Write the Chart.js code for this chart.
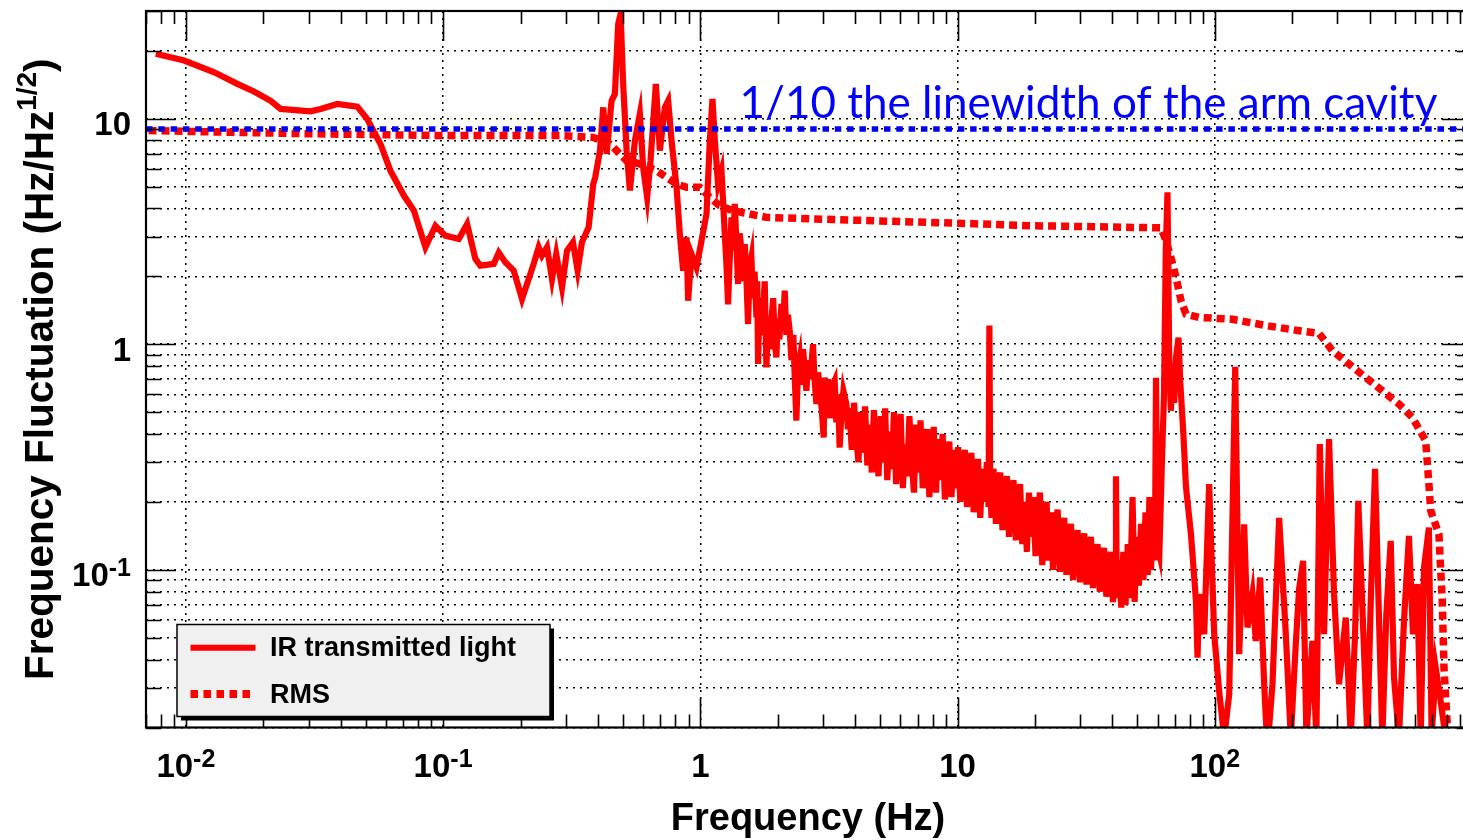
<!DOCTYPE html>
<html>
<head>
<meta charset="utf-8">
<title>Frequency fluctuation spectrum</title>
<script src="https://cdn.jsdelivr.net/npm/chart.js@4.4.1/dist/chart.umd.min.js"></script>
<style>
  html, body { margin: 0; padding: 0; background: #fff; overflow: hidden; }
  #wrap { width: 1480px; height: 840px; }
</style>
</head>
<body>
<div id="wrap"><canvas id="c" width="1480" height="840"></canvas></div>
<script>
// --- data -----------------------------------------------------------------
// IR transmitted light: amplitude spectral density (Hz/Hz^1/2) vs frequency (Hz)
var IR_FREQ = [
  0.00764, 0.00985, 0.0129, 0.01585, 0.0184, 0.02136, 0.02335, 0.03054, 0.0334, 0.0388,
  0.0464, 0.0507, 0.0571, 0.0624, 0.0704, 0.077, 0.0854, 0.0934, 0.102, 0.1151,
  0.124, 0.1335, 0.1396, 0.1574, 0.1646, 0.1746, 0.1882, 0.2027, 0.225, 0.2353,
  0.2424, 0.2535, 0.2651, 0.2754, 0.29, 0.3032, 0.3198, 0.3335, 0.3466, 0.368,
  0.3835, 0.3904, 0.4073, 0.4194, 0.4323, 0.4519, 0.4656, 0.4795, 0.49, 0.5013,
  0.517, 0.5325, 0.5568, 0.5821, 0.5995, 0.6213, 0.6405, 0.6717, 0.6962, 0.7281,
  0.7499, 0.773, 0.8084, 0.8325, 0.8574, 0.8839, 0.8966, 0.9243, 0.9665, 1.011,
  1.057, 1.089, 1.115, 1.139, 1.172, 1.209,
  1.245, 1.265, 1.282, 1.302, 1.322, 1.341, 1.361, 1.38, 1.402, 1.423,
  1.445, 1.467, 1.489, 1.51, 1.533, 1.556, 1.58, 1.6, 1.625, 1.653,
  1.665, 1.677, 1.7, 1.725, 1.753, 1.78, 1.807, 1.835, 1.86, 1.89,
  1.92, 1.95, 1.976, 2.0, 2.03, 2.067, 2.1, 2.129, 2.16, 2.19,
  2.226, 2.26, 2.3, 2.33, 2.363, 2.4, 2.434, 2.47, 2.51, 2.55,
  2.585, 2.63, 2.68, 2.742, 2.78, 2.827, 2.87, 2.92, 2.97, 3.017,
  3.044, 3.09, 3.14, 3.2, 3.26, 3.329, 3.38, 3.43, 3.481, 3.54,
  3.6, 3.696, 3.75,
  3.8, 3.88, 3.96, 4.04, 4.12, 4.2, 4.28, 4.37, 4.46, 4.55,
  4.64, 4.73, 4.83, 4.93, 5.03, 5.13, 5.23, 5.33, 5.44, 5.55,
  5.66, 5.77, 5.89, 6.01, 6.13, 6.25, 6.38, 6.5, 6.63, 6.77,
  6.9, 7.04, 7.18, 7.32, 7.47, 7.62, 7.77, 7.93, 8.08, 8.25,
  8.41, 8.58, 8.75, 8.93, 9.1, 9.29, 9.47, 9.66, 9.86, 10.05,
  10.25, 10.46, 10.67, 10.88, 11.1, 11.32, 11.55, 11.78, 12.01, 12.25,
  12.5, 12.75, 13.0, 13.2, 13.3, 13.4, 13.55, 13.8, 14.1, 14.35,
  14.65, 14.95, 15.25, 15.55, 15.85, 16.2, 16.5, 16.85, 17.15, 17.5,
  17.85, 18.2, 18.6, 18.95, 19.35, 19.7, 20.1, 20.5, 20.9, 21.35,
  21.75, 22.2, 22.6, 23.1, 23.5, 24.0, 24.5, 25.0, 25.5, 26.0,
  26.5, 27.0, 27.6, 28.1, 28.7, 29.3, 29.9, 30.5, 31.1, 31.7,
  32.3, 33.0, 33.6, 34.3, 35.0, 35.7, 36.4, 37.1, 37.9, 38.6,
  39.4, 40.2, 41.0, 41.3, 41.6, 42.4, 43.3, 44.1, 45.0, 45.9,
  46.8, 47.9, 48.8, 49.7, 50.7, 51.7, 52.8, 53.8, 54.9, 55.7,
  56.5, 57.6, 58.5, 59.1, 59.8, 60.9,
  62.3, 63.5, 64.5, 65.5, 66.5, 67.5, 68.5, 69.5, 70.7, 72.3,
  73.5, 75.5, 77.3, 80.8, 84.5, 85.7, 87.0, 91.0, 95.1, 99.5,
  104, 108.8, 113.8, 120.1, 124.4, 130.1, 134.0, 140.1, 144.4, 150.1,
  155.6, 160.2, 167.6, 177.9, 188.9, 197.5, 206.5, 212.7, 220.5, 227.1,
  239.6, 248.3, 256, 266, 278.1, 290.9, 304.1, 323, 337.8, 351,
  361.4, 374.8, 391.9, 404, 419.8, 434.9, 448.1, 464.5, 483.1, 497.5,
  520, 544, 568.7, 589.5, 612.8, 631.9, 650.8, 679.9, 696.8, 722.3,
  755.3, 789.8
];
var IR_AMP = [
  19.4, 18.1, 16.05, 14.26, 13.2, 12.0, 11.04, 10.78, 11.04, 11.62,
  11.3, 9.97, 7.72, 5.88, 4.56, 3.91, 2.69, 3.35, 3.03, 2.93,
  3.41, 2.39, 2.23, 2.27, 2.55, 2.31, 2.12, 1.587, 2.27, 2.69,
  2.47, 2.69, 1.946, 2.51, 1.786, 2.6, 2.83, 2.12, 2.83, 3.3,
  5.13, 5.49, 7.21, 11.22, 6.98, 12.0, 12.87, 26.3, 29.1, 14.26,
  7.21, 4.8, 7.99, 10.5, 6.08, 4.48, 6.51, 14.26, 7.21, 11.22,
  12.0, 7.99, 4.96, 3.08, 2.12, 2.98, 1.56, 2.51, 2.19, 2.88,
  3.78, 7.99, 12.23, 7.99, 5.13, 5.88,
  3.08, 2.2, 1.5, 2.4, 3.65, 2.6, 4.19, 2.9, 1.849, 3.1,
  2.6, 1.9, 2.78, 2.0, 1.229, 2.2, 2.43, 1.6, 2.1, 1.315,
  1.9, 0.817, 1.6, 1.1, 1.361, 1.9, 0.789, 1.3, 0.95, 1.271,
  1.6, 1.0, 0.874, 1.3, 1.05, 1.508, 1.25, 1.727, 1.1, 1.35,
  1.148, 0.85, 1.1, 0.7, 0.458, 0.8, 0.874, 0.66, 0.95, 0.75,
  0.622, 0.85, 0.7, 1.0, 0.7, 0.543, 0.75, 0.62, 0.5, 0.386,
  0.712, 0.56, 0.7, 0.47, 0.65, 0.689, 0.45, 0.6, 0.348, 0.5,
  0.62, 0.543, 0.42,
  0.52, 0.34, 0.55, 0.38, 0.30, 0.50, 0.33, 0.53, 0.29, 0.44,
  0.27, 0.51, 0.35, 0.26, 0.48, 0.30, 0.52, 0.25, 0.41, 0.28,
  0.50, 0.24, 0.38, 0.49, 0.23, 0.36, 0.26, 0.48, 0.30, 0.22,
  0.44, 0.27, 0.46, 0.23, 0.35, 0.42, 0.21, 0.30, 0.43, 0.22,
  0.38, 0.25, 0.40, 0.205, 0.31, 0.37, 0.21, 0.34, 0.23, 0.35,
  0.20, 0.29, 0.34, 0.19, 0.27, 0.33, 0.18, 0.25, 0.31, 0.17,
  0.28, 0.20, 0.30, 0.19, 1.21, 0.24, 0.17, 0.28, 0.16, 0.23,
  0.27, 0.15, 0.22, 0.26, 0.14, 0.21, 0.25, 0.135, 0.19, 0.24,
  0.13, 0.20, 0.12, 0.22, 0.14, 0.21, 0.115, 0.17, 0.22, 0.105,
  0.16, 0.20, 0.11, 0.18, 0.10, 0.15, 0.185, 0.098, 0.14, 0.17,
  0.095, 0.13, 0.16, 0.09, 0.125, 0.15, 0.088, 0.12, 0.145, 0.086,
  0.115, 0.14, 0.083, 0.11, 0.13, 0.08, 0.105, 0.125, 0.076, 0.10,
  0.12, 0.072, 0.10, 0.26, 0.075, 0.11, 0.068, 0.12, 0.07, 0.13,
  0.075, 0.21, 0.072, 0.14, 0.085, 0.16, 0.09, 0.18, 0.095, 0.21,
  0.10, 0.19, 0.11, 0.71, 0.13, 0.118,
  0.3, 0.6, 2.6, 4.71, 0.9, 0.507, 0.75, 0.55, 0.874, 1.07,
  0.666, 0.4, 0.232, 0.144, 0.0729, 0.0408, 0.078, 0.0518, 0.24, 0.0518,
  0.029, 0.018, 0.0281, 0.795, 0.0423, 0.159, 0.0555, 0.078, 0.0484, 0.0924,
  0.0311, 0.016, 0.0311, 0.17, 0.0518, 0.018, 0.0468, 0.0821, 0.1096, 0.018,
  0.0484, 0.018, 0.361, 0.0518, 0.38, 0.078, 0.0311, 0.0614, 0.018, 0.0518,
  0.202, 0.068, 0.018, 0.0729, 0.28, 0.0614, 0.018, 0.0636, 0.1344, 0.0333,
  0.018, 0.0594, 0.1415, 0.0518, 0.0864, 0.018, 0.1023, 0.154, 0.018, 0.0369,
  0.0262, 0.018
];

// integrated RMS of the same spectrum
var RMS_FREQ = [
  0.00716, 0.0279, 0.1065, 0.2848, 0.3825, 0.4453, 0.4868, 0.517, 0.5821, 0.676,
  0.739, 0.8084, 0.8839, 0.9955, 1.089, 1.19, 1.341, 1.807, 3.279, 5.95,
  10.8, 19.6, 33.5, 61.8, 64.6, 67.5, 70.7, 73.9, 77.3, 87.0,
  117.2, 158, 212.7, 254.4, 286.6, 332.5, 386.4, 448.1, 520, 586,
  660.6, 679.9, 690.7, 743.6, 766.2, 778, 801
];
var RMS_AMP = [
  8.85, 8.58, 8.41, 8.41, 8.26, 7.72, 6.98, 6.51, 6.3, 5.88,
  5.49, 5.13, 4.96, 4.96, 4.48, 4.11, 3.91, 3.65, 3.57, 3.5,
  3.43, 3.35, 3.32, 3.28, 2.88, 2.43, 1.98, 1.56, 1.36, 1.315,
  1.29, 1.21, 1.148, 1.117, 0.936, 0.817, 0.712, 0.622, 0.543, 0.474,
  0.373, 0.24, 0.183, 0.144, 0.0729, 0.0369, 0.0207
];

// reference level: 1/10 of the arm-cavity linewidth
var LIMIT_FREQ = [0.007, 1000];
var LIMIT_AMP = [9.0, 9.0];
var LIMIT_TEXT = "1/10 the linewidth of the arm cavity";
var LIMIT_TEXT_AT = [1.42, 10.1];   // left end / baseline of the annotation (data units)

var SERIES_LABELS = ["IR transmitted light", "RMS"];

// axes
var X_RANGE = [0.007, 1000];
var Y_RANGE = [0.02, 30];
var X_TICK_VALUES = [0.01, 0.1, 1, 10, 100];
var X_TICK_BASE = ["10", "10", "1", "10", "10"];
var X_TICK_EXP = ["-2", "-1", "", "", "2"];
var Y_TICK_VALUES = [0.1, 1, 10];
var Y_TICK_BASE = ["10", "1", "10"];
var Y_TICK_EXP = ["-1", "", ""];
var X_TITLE = "Frequency (Hz)";
var Y_TITLE = ["Frequency Fluctuation (Hz/Hz", "1/2", ")"];

// --- helpers -----------------------------------------------------------------
var RED = "#ff0000", BLUE = "#0000f0";
var FONT = "'Liberation Sans', Arial, Helvetica, sans-serif";

function pts(xs, ys) {
  return xs.map(function (x, i) { return { x: x, y: ys[i] }; });
}
function isDecade(v) {
  var l = Math.log10(v);
  return Math.abs(l - Math.round(l)) < 1e-6;
}
// 1..9 x 10^n inside [lo, hi]
function logTicks(lo, hi) {
  var out = [];
  for (var e = -4; e <= 4; e++) {
    for (var m = 1; m <= 9; m++) {
      var v = +(m * Math.pow(10, e)).toPrecision(6);
      if (v >= lo * 0.9999 && v <= hi * 1.0001) out.push(v);
    }
  }
  return out;
}
var X_TICKS = logTicks(X_RANGE[0], X_RANGE[1]);
var Y_TICKS = logTicks(Y_RANGE[0], Y_RANGE[1]);

// "10" + superscript exponent, aligned on px
function drawPow(ctx, base, exp, px, baseline, align, size) {
  var sup = Math.round(size * 0.75);
  ctx.font = "bold " + size + "px " + FONT;
  var wb = ctx.measureText(base).width;
  ctx.font = "bold " + sup + "px " + FONT;
  var we = exp ? ctx.measureText(exp).width : 0;
  var left = align === "right" ? px - wb - we : px - (wb + we) / 2;
  ctx.textAlign = "left";
  ctx.textBaseline = "alphabetic";
  ctx.font = "bold " + size + "px " + FONT;
  ctx.fillText(base, left, baseline);
  if (exp) {
    ctx.font = "bold " + sup + "px " + FONT;
    ctx.fillText(exp, left + wb, baseline - 10);
  }
}

// ROOT-like frame, inward ticks, labels, titles and legend
var rootStyle = {
  id: "rootStyle",
  afterDatasetsDraw: function (chart) {
    var ctx = chart.ctx, a = chart.chartArea, x = chart.scales.x, y = chart.scales.y;
    ctx.save();
    ctx.strokeStyle = "#000";
    ctx.lineWidth = 1.6;
    ctx.beginPath();
    X_TICKS.forEach(function (v) {
      var px = Math.round(x.getPixelForValue(v)) + 0.5;
      var len = isDecade(v) ? 30 : 13;
      ctx.moveTo(px, a.bottom); ctx.lineTo(px, a.bottom - len);
      ctx.moveTo(px, a.top); ctx.lineTo(px, a.top + len);
    });
    Y_TICKS.forEach(function (v) {
      var py = Math.round(y.getPixelForValue(v)) + 0.5;
      var len = isDecade(v) ? 30 : 15;
      ctx.moveTo(a.left, py); ctx.lineTo(a.left + len, py);
      ctx.moveTo(a.right, py); ctx.lineTo(a.right - len, py);
    });
    ctx.stroke();
    ctx.lineWidth = 2.2;
    ctx.strokeRect(a.left, a.top, a.right - a.left, a.bottom - a.top);
    ctx.restore();
  },
  afterDraw: function (chart) {
    var ctx = chart.ctx, a = chart.chartArea, x = chart.scales.x, y = chart.scales.y;
    ctx.save();
    ctx.fillStyle = "#000";

    // tick labels
    X_TICK_VALUES.forEach(function (v, i) {
      drawPow(ctx, X_TICK_BASE[i], X_TICK_EXP[i], x.getPixelForValue(v), 777, "center", 33);
    });
    Y_TICK_VALUES.forEach(function (v, i) {
      drawPow(ctx, Y_TICK_BASE[i], Y_TICK_EXP[i], a.left - 15, y.getPixelForValue(v) + 16.5, "right", 33);
    });

    // x title
    ctx.font = "bold 38px " + FONT;
    ctx.textAlign = "center";
    ctx.textBaseline = "alphabetic";
    ctx.fillText(X_TITLE, (a.left + a.right) / 2 - 1, 830);

    // y title, rotated, with superscript 1/2
    ctx.save();
    ctx.translate(53, (a.top + a.bottom) / 2);
    ctx.rotate(-Math.PI / 2);
    var big = "bold 40.5px " + FONT, small = "bold 28px " + FONT;
    ctx.font = big;
    var w0 = ctx.measureText(Y_TITLE[0]).width, w2 = ctx.measureText(Y_TITLE[2]).width;
    ctx.font = small;
    var w1 = ctx.measureText(Y_TITLE[1]).width;
    var sx = -(w0 + w1 + w2) / 2;
    ctx.textAlign = "left";
    ctx.font = big;
    ctx.fillText(Y_TITLE[0], sx, 0);
    ctx.font = small;
    ctx.fillText(Y_TITLE[1], sx + w0, -17);
    ctx.font = big;
    ctx.fillText(Y_TITLE[2], sx + w0 + w1, 0);
    ctx.restore();

    // annotation of the reference level
    ctx.fillStyle = "#0000ff";
    ctx.font = "44px Lato, 'Open Sans', sans-serif";
    ctx.textAlign = "left";
    ctx.fillText(LIMIT_TEXT, x.getPixelForValue(LIMIT_TEXT_AT[0]), y.getPixelForValue(LIMIT_TEXT_AT[1]));

    // legend box with drop shadow
    var L = 177, T = 624.5, W = 373, H = 92;
    ctx.fillStyle = "#000";
    ctx.fillRect(L + 4, T + 4, W, H);
    ctx.fillStyle = "#f0f0f0";
    ctx.fillRect(L, T, W, H);
    ctx.strokeStyle = "#000";
    ctx.lineWidth = 1.5;
    ctx.strokeRect(L, T, W, H);

    ctx.strokeStyle = RED;
    ctx.lineWidth = 6;
    ctx.beginPath(); ctx.moveTo(190.5, 647.7); ctx.lineTo(255.5, 647.7); ctx.stroke();
    ctx.lineWidth = 8;
    ctx.setLineDash([7.5, 5.5]);
    ctx.beginPath(); ctx.moveTo(190.5, 694); ctx.lineTo(255.5, 694); ctx.stroke();
    ctx.setLineDash([]);

    ctx.fillStyle = "#000";
    ctx.font = "bold 27px " + FONT;
    ctx.fillText(SERIES_LABELS[0], 270, 655.5);
    ctx.fillText(SERIES_LABELS[1], 270, 703);
    ctx.restore();
  }
};

new Chart(document.getElementById("c").getContext("2d"), {
  type: "line",
  data: {
    datasets: [
      { label: LIMIT_TEXT, data: pts(LIMIT_FREQ, LIMIT_AMP), borderColor: BLUE,
        borderWidth: 5.5, borderDash: [6.5, 5.8], pointRadius: 0, order: 0 },
      { label: SERIES_LABELS[1], data: pts(RMS_FREQ, RMS_AMP), borderColor: RED,
        borderWidth: 7.5, borderDash: [8, 5], pointRadius: 0, order: 1 },
      { label: SERIES_LABELS[0], data: pts(IR_FREQ, IR_AMP), borderColor: RED,
        borderWidth: 6.2, pointRadius: 0, order: 2 }
    ]
  },
  options: {
    responsive: false,
    animation: false,
    devicePixelRatio: 1,
    layout: { padding: { left: 146, top: 11, right: 8, bottom: 112.5 } },
    plugins: { legend: { display: false }, tooltip: { enabled: false } },
    scales: {
      x: {
        type: "logarithmic", min: X_RANGE[0], max: X_RANGE[1],
        afterBuildTicks: function (s) { s.ticks = X_TICKS.map(function (v) { return { value: v }; }); },
        afterFit: function (s) { s.height = 0; },
        ticks: { display: false },
        border: { display: false, dash: [2, 5] },
        grid: { drawTicks: false, lineWidth: 1.5,
          color: function (c) { return c.tick && isDecade(c.tick.value) ? "#000" : "rgba(0,0,0,0)"; } }
      },
      y: {
        type: "logarithmic", min: Y_RANGE[0], max: Y_RANGE[1],
        afterBuildTicks: function (s) { s.ticks = Y_TICKS.map(function (v) { return { value: v }; }); },
        afterFit: function (s) { s.width = 0; },
        ticks: { display: false },
        border: { display: false, dash: [2, 5] },
        grid: { drawTicks: false, lineWidth: 1.5, color: "#000" }
      }
    }
  },
  plugins: [rootStyle]
});
</script>
</body>
</html>
